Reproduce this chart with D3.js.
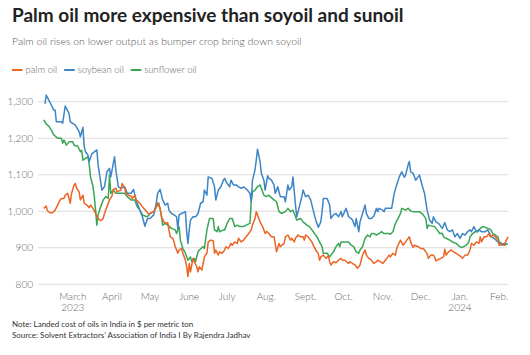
<!DOCTYPE html>
<html>
<head>
<meta charset="utf-8">
<script src="https://cdn.jsdelivr.net/npm/d3@7"></script>
<style>
  html, body { margin: 0; padding: 0; background: #fff; }
  svg { display: block; font-family: Lato, "Open Sans", sans-serif; }
</style>
</head>
<body>
<svg id="chart" width="530" height="355"></svg>
<script>
// ---- Data (day = days since 2023-01-01, value = $ per metric ton) ----
const palmOil = [[36,1008],[38,1014],[39,1001],[41,996],[43,996],[45,1003],[47,1017],[49,1031],[50,1035],[52,1035],[53,1044],[55,1049],[57,1022],[58,1049],[60,1072],[61,1076],[62,1063],[64,1053],[65,1031],[67,1044],[68,1022],[70,1017],[72,1010],[73,1017],[75,1008],[77,994],[79,980],[81,974],[83,980],[84,994],[86,1012],[88,1031],[90,1042],[91,1060],[93,1063],[94,1053],[97,1058],[98,1076],[100,1063],[101,1049],[103,1044],[105,1042],[106,1035],[108,1044],[109,1031],[112,1022],[113,1017],[115,1008],[117,1001],[119,992],[123,999],[125,1012],[126,1023],[128,1008],[129,985],[131,971],[133,967],[134,969],[135,949],[136,930],[138,926],[139,916],[140,903],[142,885],[143,894],[145,898],[146,885],[148,866],[149,848],[150,821],[151,857],[152,834],[154,871],[155,862],[157,848],[158,834],[159,848],[161,839],[162,857],[163,875],[165,885],[166,916],[168,921],[170,919],[171,885],[172,894],[174,880],[175,889],[177,885],[179,894],[180,903],[182,898],[184,912],[185,907],[187,916],[189,912],[190,926],[192,916],[194,921],[196,930],[198,939],[200,949],[201,962],[203,980],[204,999],[206,980],[207,971],[209,958],[211,939],[212,945],[214,939],[216,930],[218,930],[219,912],[220,889],[222,912],[223,903],[226,912],[227,930],[229,935],[231,921],[232,926],[234,916],[235,926],[237,935],[239,930],[241,930],[242,921],[243,935],[245,930],[248,916],[249,907],[251,894],[253,884],[254,866],[255,875],[257,880],[259,871],[261,878],[262,862],[263,853],[265,862],[267,859],[269,866],[271,871],[272,866],[274,866],[277,857],[278,862],[280,857],[282,853],[284,844],[286,853],[288,880],[290,894],[291,880],[293,871],[295,866],[297,857],[299,862],[300,866],[302,862],[304,857],[306,866],[308,875],[309,880],[310,875],[312,885],[314,880],[315,898],[316,907],[318,921],[320,907],[322,916],[323,921],[325,930],[326,916],[328,901],[329,907],[332,903],[334,898],[336,898],[337,894],[339,884],[340,871],[342,880],[344,880],[345,875],[346,864],[348,868],[350,871],[352,875],[353,896],[354,880],[356,889],[358,894],[360,889],[362,885],[364,880],[366,875],[367,871],[369,880],[371,880],[373,894],[374,912],[376,907],[378,916],[380,912],[381,930],[382,916],[384,930],[386,930],[388,939],[389,930],[391,935],[393,930],[395,921],[396,907],[398,910],[400,907],[401,916],[403,930]];

const soybeanOil = [[37,1294],[38,1318],[42,1291],[44,1277],[45,1277],[46,1245],[50,1245],[51,1241],[53,1288],[56,1268],[57,1245],[61,1236],[64,1218],[65,1204],[67,1230],[68,1177],[69,1163],[71,1154],[72,1136],[74,1157],[78,1168],[79,1127],[82,1058],[84,1067],[86,1108],[88,1117],[89,1094],[92,1149],[93,1113],[95,1067],[97,1063],[100,1067],[102,1049],[105,1049],[107,1060],[109,1031],[112,1003],[114,985],[116,959],[118,980],[120,980],[123,990],[125,1022],[126,1049],[128,1060],[130,1031],[132,1017],[134,1022],[135,1003],[137,994],[139,990],[141,985],[142,953],[143,990],[145,994],[148,999],[149,944],[150,912],[151,949],[152,976],[154,985],[156,985],[158,994],[160,1022],[162,1026],[163,1058],[165,1044],[166,1094],[169,1090],[171,1067],[172,1031],[174,1058],[176,1067],[178,1085],[179,1090],[181,1076],[183,1067],[184,1085],[186,1072],[188,1072],[190,1067],[192,1063],[194,1067],[197,1058],[199,1049],[200,1026],[201,1085],[202,1099],[203,1113],[204,1140],[205,1170],[207,1136],[208,1104],[210,1085],[211,1058],[213,1097],[214,1090],[216,1085],[218,1072],[219,1049],[221,1067],[223,1040],[226,1040],[227,1026],[229,1072],[230,1058],[232,1067],[233,1094],[235,1017],[236,985],[238,1012],[240,1040],[241,1058],[243,1040],[245,1044],[247,1031],[249,1003],[251,976],[253,956],[255,971],[256,999],[257,1035],[260,1035],[262,1017],[263,980],[265,990],[267,994],[269,985],[271,999],[272,985],[275,1008],[277,985],[279,980],[280,976],[282,958],[283,980],[285,944],[286,971],[288,994],[290,1017],[291,994],[293,980],[295,980],[297,987],[299,1008],[300,999],[301,1008],[304,1003],[305,999],[306,1008],[309,1008],[311,1008],[313,1049],[315,1072],[317,1094],[319,1108],[321,1093],[322,1099],[324,1127],[325,1136],[326,1108],[328,1104],[330,1085],[331,1090],[333,1099],[335,1072],[337,1049],[339,1003],[341,976],[343,967],[344,985],[346,971],[348,967],[350,958],[351,953],[353,969],[355,949],[357,944],[359,949],[361,930],[363,939],[365,926],[367,939],[369,935],[371,944],[373,949],[374,944],[376,958],[378,944],[380,949],[382,944],[385,944],[387,949],[389,935],[390,930],[392,926],[395,916],[396,912],[398,907],[400,912],[403,910]];

const sunflowerOil = [[36,1250],[38,1239],[40,1233],[42,1222],[44,1209],[47,1200],[50,1200],[51,1186],[52,1195],[54,1181],[56,1190],[59,1190],[60,1181],[63,1178],[65,1163],[66,1167],[67,1140],[69,1145],[71,1149],[72,1127],[73,1094],[75,1067],[76,1040],[77,1003],[78,962],[79,990],[81,1012],[83,1031],[85,1040],[87,1035],[88,1099],[89,1049],[91,1058],[93,1049],[96,1049],[100,1049],[102,1040],[105,1031],[108,1031],[110,1012],[112,1003],[114,990],[116,987],[118,985],[120,994],[123,999],[125,1012],[127,1022],[129,990],[130,962],[132,967],[134,962],[137,953],[140,949],[141,939],[143,958],[144,921],[146,898],[148,885],[150,866],[152,875],[153,862],[155,871],[156,862],[158,889],[159,894],[162,903],[163,898],[165,949],[167,980],[170,980],[171,949],[173,944],[174,958],[175,944],[178,949],[179,949],[181,967],[183,980],[185,980],[187,958],[189,962],[191,958],[194,958],[196,962],[199,967],[200,1026],[201,1053],[203,1058],[205,1067],[207,1072],[208,1063],[210,1044],[212,1040],[214,1044],[215,1040],[218,1031],[220,1026],[222,999],[224,994],[227,999],[229,1008],[231,999],[233,1003],[235,985],[236,976],[239,980],[241,971],[244,962],[246,958],[248,949],[250,939],[252,930],[254,916],[256,903],[257,885],[258,885],[260,885],[262,875],[263,880],[265,889],[267,903],[269,912],[270,903],[271,916],[275,916],[277,916],[279,907],[281,903],[283,889],[285,885],[286,894],[288,903],[290,926],[292,935],[294,930],[295,939],[297,939],[299,935],[301,939],[303,944],[305,939],[307,939],[309,939],[310,937],[312,944],[314,967],[316,980],[318,994],[319,1008],[321,1005],[322,1003],[324,1008],[326,1001],[328,999],[330,999],[333,999],[336,990],[338,980],[339,953],[340,962],[342,960],[345,958],[347,949],[349,939],[351,940],[352,930],[354,926],[357,921],[359,916],[362,912],[364,905],[366,901],[368,903],[370,907],[372,916],[373,930],[375,939],[377,944],[379,944],[381,953],[383,958],[385,956],[387,953],[389,951],[391,939],[393,935],[395,930],[396,916],[398,912],[400,907],[402,910]];

const seriesNames = ["palm oil", "soybean oil", "sunflower oil"];
const seriesColors = ["#ec6424", "#3d85c6", "#3aa655"];
const yTicks = [800, 900, 1000, 1100, 1200, 1300];
const monthStarts = ["2023-03-01","2023-04-01","2023-05-01","2023-06-01","2023-07-01","2023-08-01","2023-09-01","2023-10-01","2023-11-01","2023-12-01","2024-01-01","2024-02-01"];
const monthLabels = ["March","April","May","June","July","Aug.","Sept.","Oct.","Nov.","Dec.","Jan.","Feb."];
const yearLabels = ["2023","","","","","","","","","","2024",""];

const title = "Palm oil more expensive than soyoil and sunoil";
const subtitle = "Palm oil rises on lower output as bumper crop bring down soyoil";
const note = "Note: Landed cost of oils in India in $ per metric ton";
const source = "Source: Solvent Extractors\u2019 Association of India I By Rajendra Jadhav";

// ---- Drawing ----
const svg = d3.select("#chart");
const parse = d3.timeParse("%Y-%m-%d");
const toDate = d => new Date(2023, 0, 1 + d);

const x = d3.scaleTime()
  .domain([parse(monthStarts[0]), parse(monthStarts[monthStarts.length - 1])])
  .range([72.8, 499.2]);
const y = d3.scaleLinear().domain([800, 1300]).range([284.3, 101.7]);
const gridLeft = 38, gridRight = 508;

svg.append("text").attr("x", 12).attr("y", 22)
  .attr("font-size", 19).attr("font-weight", 700).attr("fill", "#222")
  .text(title);
svg.append("text").attr("x", 12).attr("y", 45)
  .attr("font-size", 10.5).attr("font-weight", 300).attr("fill", "#555")
  .text(subtitle);

// legend
const legend = svg.append("g").attr("transform", "translate(12,70)");
let lx = 0;
seriesNames.forEach((n, i) => {
  const g = legend.append("g").attr("transform", `translate(${lx},0)`);
  g.append("line").attr("x1", 0).attr("x2", 10.5).attr("y1", 0).attr("y2", 0)
    .attr("stroke", seriesColors[i]).attr("stroke-width", 2);
  const t = g.append("text").attr("x", 13.5).attr("y", 3.3)
    .attr("font-size", 9.5).attr("font-weight", 300).attr("fill", "#666").text(n);
  lx += 13.5 + t.node().getComputedTextLength() + 7;
});

// grid + y axis
const yAxis = svg.append("g");
yTicks.forEach(v => {
  yAxis.append("line").attr("x1", gridLeft).attr("x2", gridRight)
    .attr("y1", y(v)).attr("y2", y(v))
    .attr("stroke", "#dcdcdc").attr("stroke-width", 1);
  yAxis.append("text").attr("x", 33).attr("y", y(v) + 3.5)
    .attr("text-anchor", "end").attr("font-size", 10).attr("font-weight", 300).attr("fill", "#666")
    .text(d3.format(",")(v));
});

// x axis labels
const xAxis = svg.append("g");
monthStarts.forEach((m, i) => {
  const px = x(parse(m));
  xAxis.append("text").attr("x", px).attr("y", 300)
    .attr("text-anchor", "middle").attr("font-size", 10).attr("font-weight", 300).attr("fill", "#666")
    .text(monthLabels[i]);
  if (yearLabels[i]) {
    xAxis.append("text").attr("x", px).attr("y", 311)
      .attr("text-anchor", "middle").attr("font-size", 10).attr("font-weight", 300).attr("fill", "#666")
      .text(yearLabels[i]);
  }
});

// lines
const line = d3.line().x(d => x(toDate(d[0]))).y(d => y(d[1]));
const drawOrder = [[sunflowerOil, 2], [soybeanOil, 1], [palmOil, 0]];
drawOrder.forEach(([data, i]) => {
  svg.append("path").datum(data)
    .attr("fill", "none").attr("stroke", seriesColors[i])
    .attr("stroke-width", 1.5).attr("stroke-linejoin", "round")
    .attr("d", line);
});

// notes
svg.append("text").attr("x", 12).attr("y", 327)
  .attr("font-size", 8).attr("fill", "#333").text(note);
svg.append("text").attr("x", 12).attr("y", 338)
  .attr("font-size", 8).attr("fill", "#333").text(source);
</script>
</body>
</html>
